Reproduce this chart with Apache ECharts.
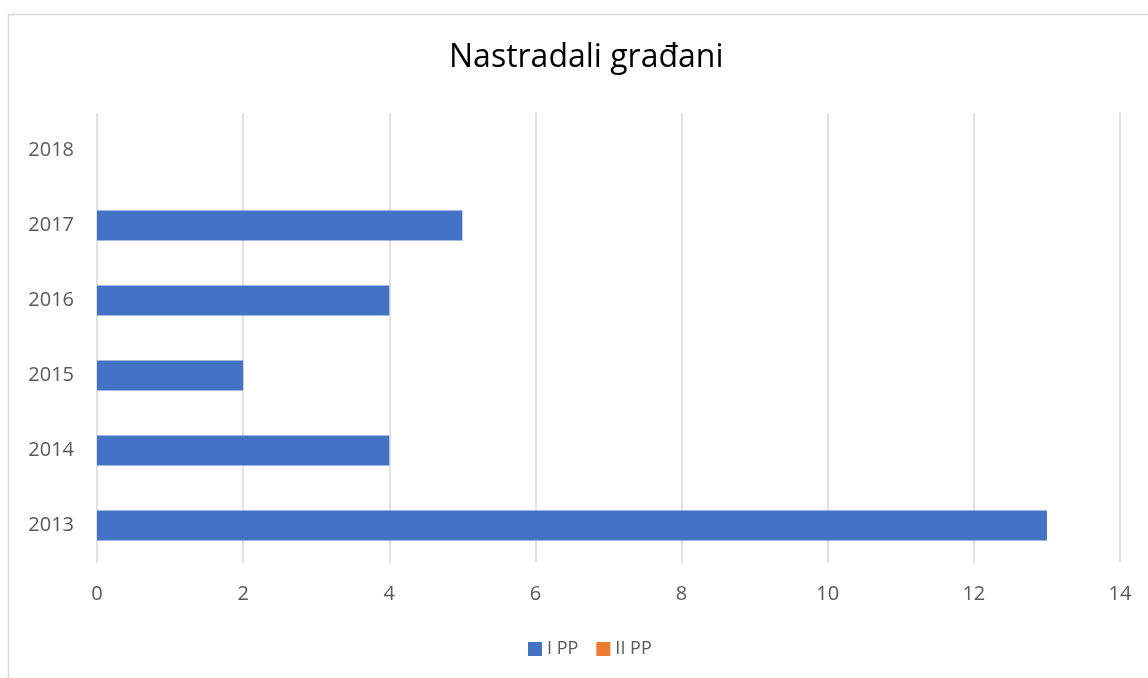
<!DOCTYPE html>
<html>
<head>
<meta charset="utf-8">
<script src="https://cdn.jsdelivr.net/npm/echarts@6/dist/echarts.min.js"></script>
<style>
  html, body { margin: 0; padding: 0; background: #fff; }
  #chart { width: 1148px; height: 678px; }
</style>
</head>
<body>
<div id="chart"></div>
<script>
var years = ['2013', '2014', '2015', '2016', '2017', '2018'];
var prviPP = [13, 4, 2, 4, 5, 0];
var drugiPP = [0, 0, 0, 0, 0, 0];
var xTicks = { min: 0, max: 14, interval: 2 };

var myChart = echarts.init(document.getElementById('chart'));

var option = {
    backgroundColor: '#fff',
    textStyle: { fontFamily: 'Open Sans' },
    graphic: [{
        type: 'rect',
        shape: { x: 8.5, y: 14.5, width: 1300, height: 800 },
        style: { fill: 'none', stroke: '#d9d9d9', lineWidth: 1.5 },
        silent: true
    }],
    title: {
        text: 'Nastradali građani',
        left: 444,
        top: 37,
        textStyle: { fontFamily: 'Open Sans', fontSize: 32, fontWeight: 'normal', color: '#000' }
    },
    legend: {
        left: 523,
        top: 635,
        itemWidth: 14,
        itemHeight: 14,
        itemGap: 18,
        icon: 'rect',
        textStyle: { fontSize: 18, color: '#595959' },
        data: ['I PP', 'II PP']
    },
    grid: { left: 97, right: 28, top: 113, bottom: 115 },
    xAxis: {
        type: 'value',
        min: xTicks.min,
        max: xTicks.max,
        interval: xTicks.interval,
        axisLine: { show: false },
        axisTick: { show: false },
        axisLabel: { color: '#595959', fontSize: 20, margin: 21 },
        splitLine: { lineStyle: { color: '#d9d9d9', width: 1.5 } }
    },
    yAxis: {
        type: 'category',
        data: years,
        axisLine: { show: false },
        axisTick: { show: false },
        axisLabel: { color: '#595959', fontSize: 20, margin: 23 }
    },
    series: [
        {
            name: 'I PP',
            type: 'bar',
            stack: 'pp',
            barWidth: 30,
            itemStyle: { color: '#4472c4' },
            data: prviPP
        },
        {
            name: 'II PP',
            type: 'bar',
            stack: 'pp',
            barWidth: 30,
            itemStyle: { color: '#ed7d31' },
            data: drugiPP
        }
    ]
};

myChart.setOption(option);
</script>
</body>
</html>
